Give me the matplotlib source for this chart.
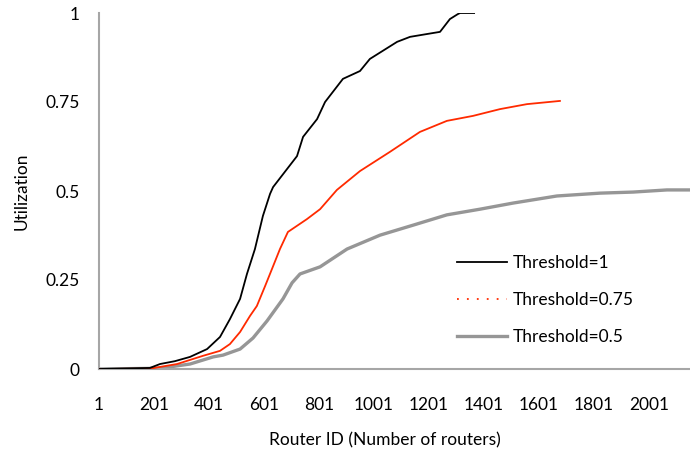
import matplotlib
matplotlib.use("Agg")
import matplotlib.pyplot as plt
from matplotlib.lines import Line2D

plt.rcParams['font.family'] = ['Lato', 'DejaVu Sans']

# Cumulative utilization versus router ID for three thresholds
x_t1 = [1, 186, 223, 277, 332, 394, 441, 477, 514, 539, 568, 597, 623, 634,
        685, 721, 743, 794, 823, 888, 950, 986, 1085, 1132, 1194, 1241, 1277,
        1306, 1314, 1365]
y_t1 = [0, 0.003, 0.014, 0.022, 0.034, 0.056, 0.090, 0.140, 0.197, 0.267,
        0.337, 0.430, 0.492, 0.511, 0.562, 0.598, 0.652, 0.702, 0.750, 0.815,
        0.837, 0.871, 0.919, 0.933, 0.941, 0.947, 0.983, 0.997, 1.0, 1.0]

x_t075 = [1, 186, 285, 379, 441, 477, 514, 550, 575, 605, 630, 659, 688, 757,
          805, 866, 950, 1059, 1168, 1266, 1361, 1459, 1557, 1677]
y_t075 = [0, 0.001, 0.014, 0.037, 0.051, 0.070, 0.104, 0.149, 0.177, 0.233,
          0.281, 0.337, 0.385, 0.421, 0.449, 0.503, 0.556, 0.610, 0.666, 0.697,
          0.711, 0.730, 0.744, 0.753]

x_t05 = [1, 223, 332, 416, 452, 514, 561, 612, 670, 703, 732, 805, 903, 1023,
         1143, 1266, 1387, 1506, 1666, 1823, 1943, 2066, 2150]
y_t05 = [0, 0.002, 0.014, 0.034, 0.039, 0.056, 0.087, 0.135, 0.197, 0.242,
         0.267, 0.287, 0.337, 0.376, 0.404, 0.433, 0.449, 0.466, 0.486, 0.494,
         0.497, 0.503, 0.503]

x_ticks = [1, 201, 401, 601, 801, 1001, 1201, 1401, 1601, 1801, 2001]
y_ticks = [0, 0.25, 0.5, 0.75, 1]
y_tick_labels = ["0", "0.25", "0.5", "0.75", "1"]
labels = ["Threshold=1", "Threshold=0.75", "Threshold=0.5"]

c_black = "#000000"
c_red = "#FF2A00"
c_gray = "#969696"
axis_gray = "#A6A6A6"
fs = 12.5

fig = plt.figure(figsize=(6.9, 4.57), dpi=100)
ax = fig.add_axes([99 / 690, 1 - 369 / 457, 591 / 690, (369 - 13) / 457])

ax.plot(x_t05, y_t05, color=c_gray, lw=2.4, solid_capstyle='butt', zorder=2)
ax.plot(x_t075, y_t075, color=c_red, lw=1.3, zorder=3)
ax.plot(x_t1, y_t1, color=c_black, lw=1.3, zorder=4)

ax.set_xlim(1, 2150)
ax.set_ylim(0, 1)
ax.set_xticks(x_ticks)
ax.set_xticklabels([str(v) for v in x_ticks])
ax.set_yticks(y_ticks)
ax.set_yticklabels(y_tick_labels)
ax.tick_params(axis='both', length=0, labelsize=fs, colors='#000000')
ax.tick_params(axis='x', pad=20)
ax.tick_params(axis='y', pad=14)

for side in ('top', 'right'):
    ax.spines[side].set_visible(False)
for side in ('left', 'bottom'):
    ax.spines[side].set_color(axis_gray)
    ax.spines[side].set_linewidth(1.5)

ax.set_xlabel("Router ID (Number of routers)", fontsize=fs)
ax.xaxis.set_label_coords((385 - 99) / 591, -(432 - 369) / 356)
ax.set_ylabel("Utilization", fontsize=fs)
ax.yaxis.set_label_coords(-(99 - 30) / 591, 0.5)

handles = [
    Line2D([], [], color=c_black, lw=1.3),
    Line2D([], [], color=c_red, lw=1.3, linestyle=(0, (1, 4.5))),
    Line2D([], [], color=c_gray, lw=2.4),
]
fig.legend(handles, labels, loc='upper left',
           bbox_to_anchor=(457 / 690, 1 - 255 / 457), frameon=False,
           fontsize=fs, handlelength=2.9, handletextpad=0.3,
           labelspacing=1.2, borderpad=0, borderaxespad=0)

fig.savefig("out.png", dpi=100)
